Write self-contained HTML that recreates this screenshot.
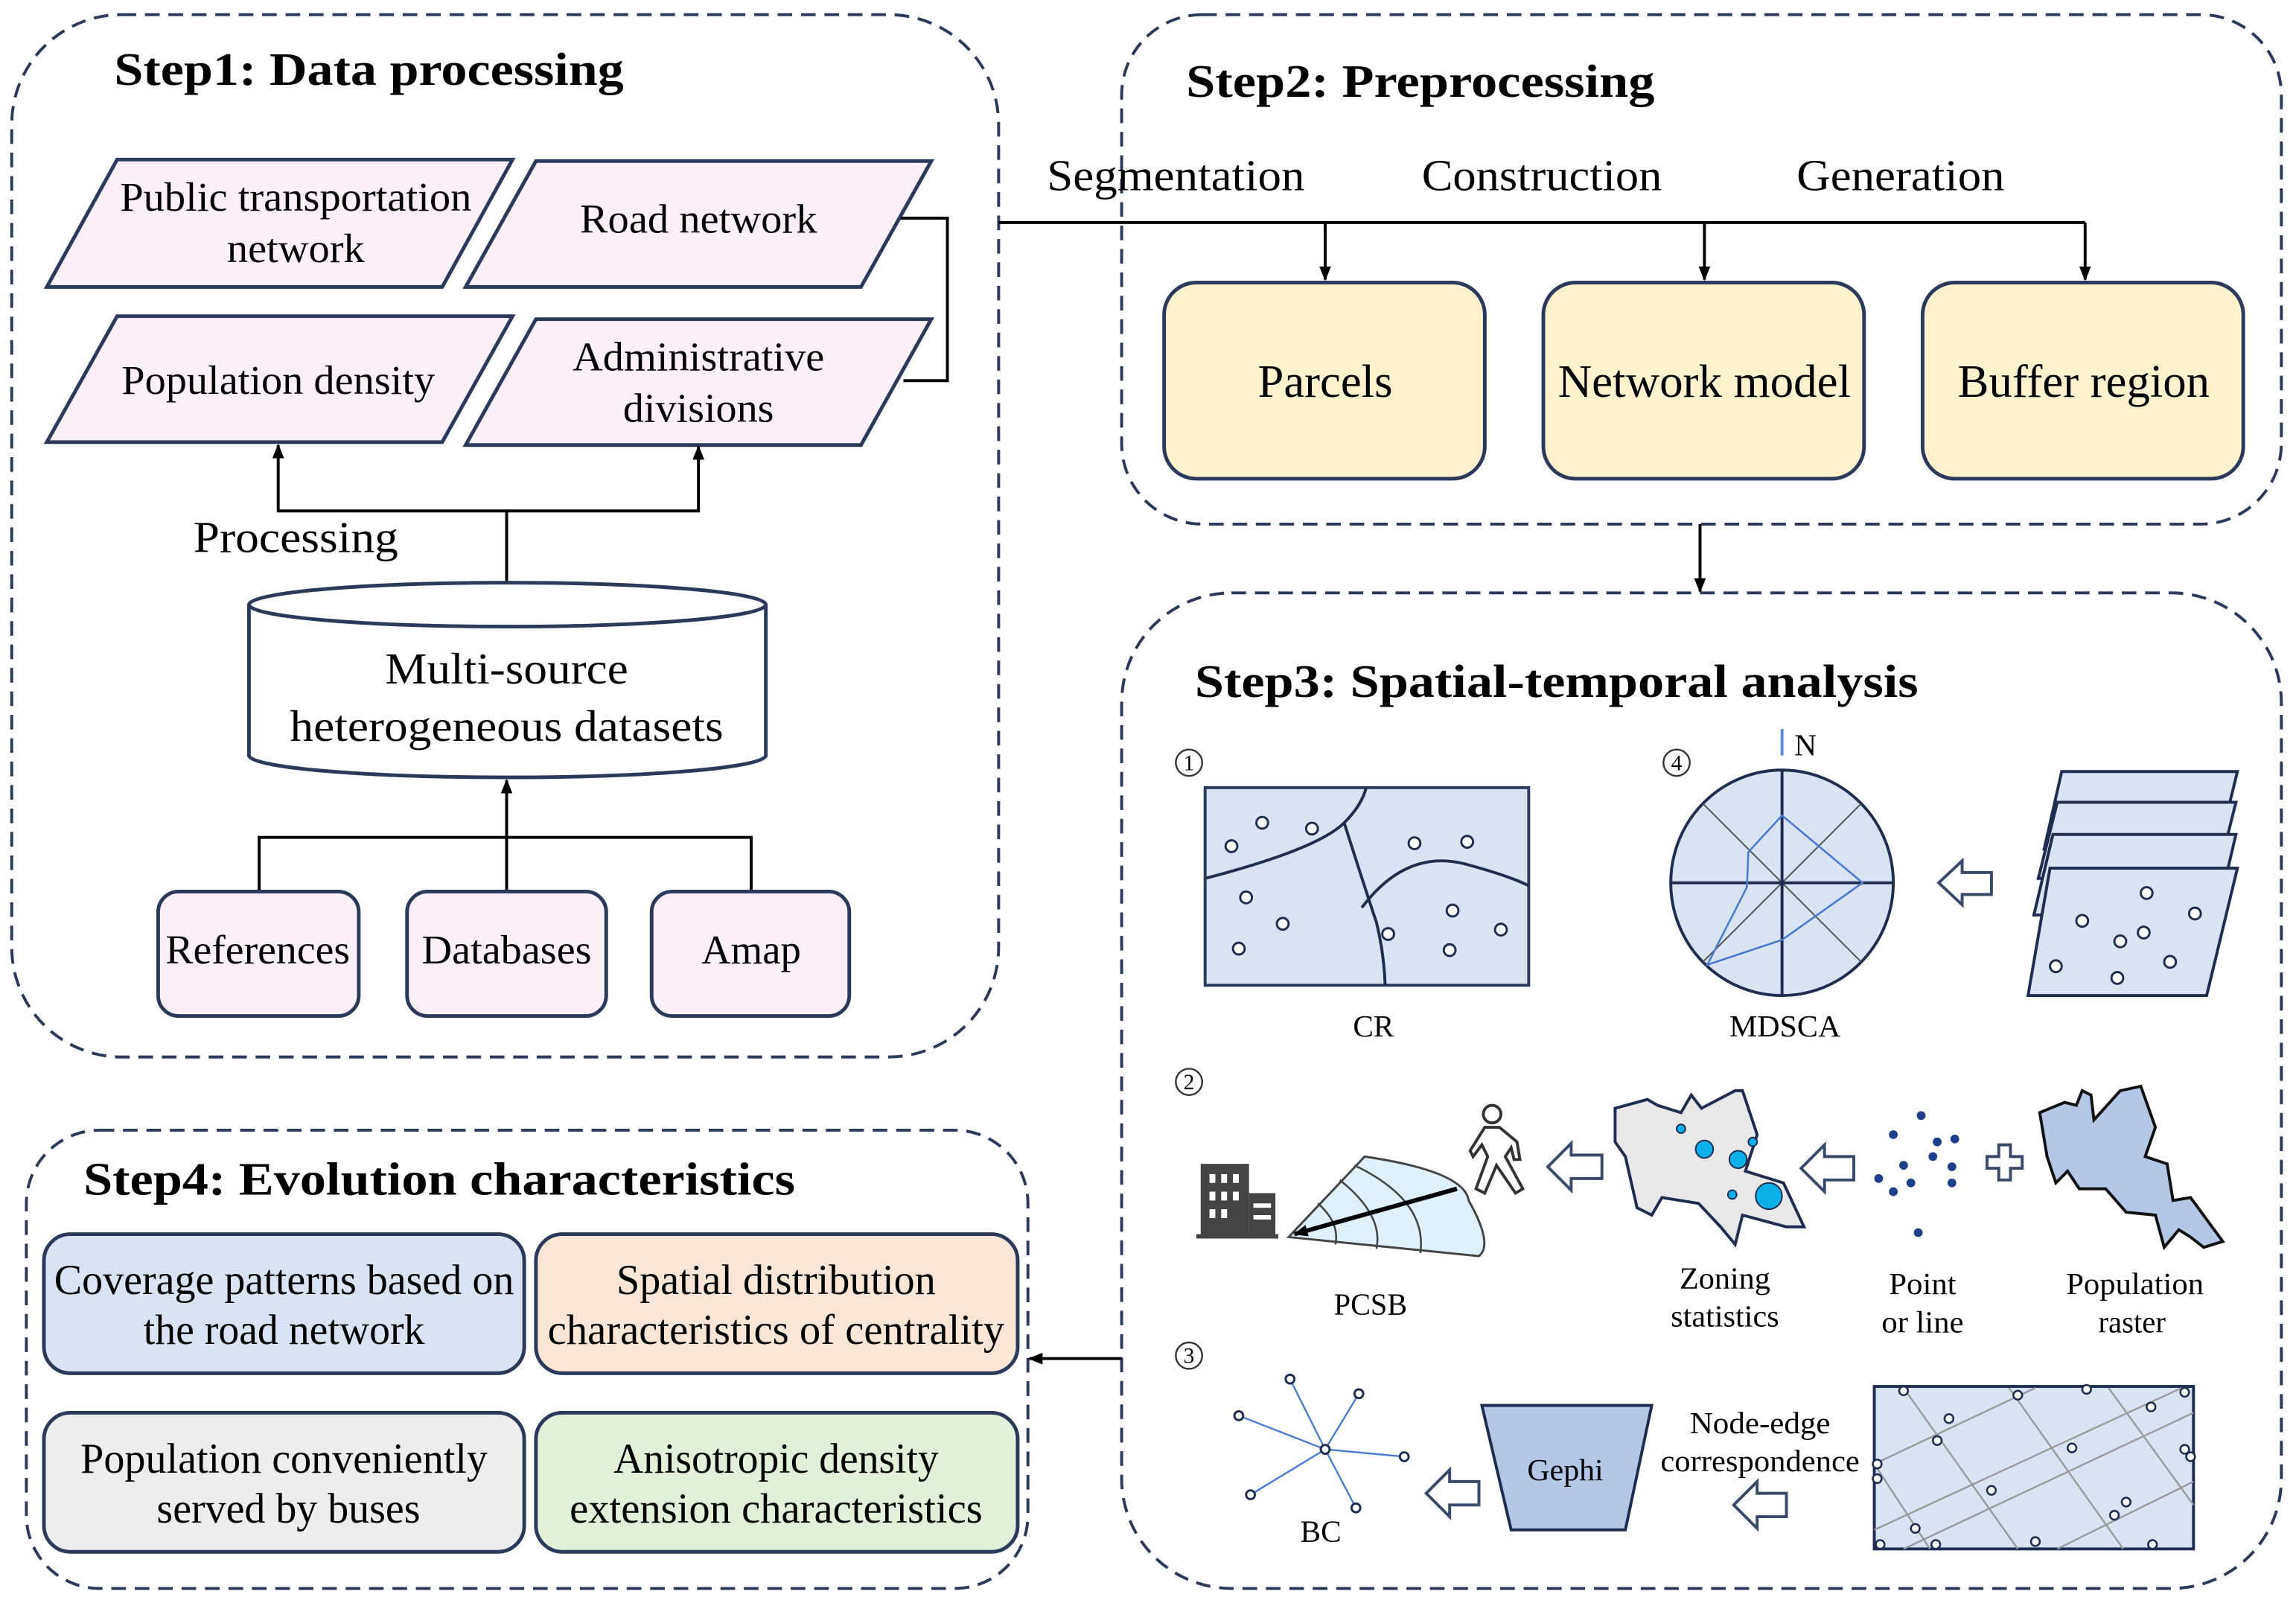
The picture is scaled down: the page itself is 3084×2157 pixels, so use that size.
<!DOCTYPE html>
<html><head><meta charset="utf-8"><style>html,body{margin:0;padding:0;background:#fff}svg{display:block}svg text{font-family:"Liberation Serif","Times New Roman",serif}</style></head>
<body>
<svg width="3084" height="2157" viewBox="0 0 1568 1097" preserveAspectRatio="none" xmlns="http://www.w3.org/2000/svg" style="font-family:'Liberation Serif',serif">
<defs>
<marker id="ar" markerWidth="10" markerHeight="10" refX="9" refY="5" orient="auto" markerUnits="userSpaceOnUse"><path d="M0,1 L10,5 L0,9 z" fill="#000"/></marker>
</defs>
<g fill="none" stroke="#2b3a5a" stroke-width="2" stroke-dasharray="10,6">
<rect x="8" y="10" width="674" height="712" rx="75"/>
<rect x="766" y="10" width="792" height="348" rx="55"/>
<rect x="766" y="405" width="792" height="680" rx="75"/>
<rect x="18" y="772" width="684" height="313" rx="50"/>
</g>
<g font-weight="bold" font-size="32">
<text x="78" y="58" textLength="348" lengthAdjust="spacingAndGlyphs">Step1: Data processing</text>
<text x="810" y="66" textLength="320" lengthAdjust="spacingAndGlyphs">Step2: Preprocessing</text>
<text x="816" y="476" textLength="494" lengthAdjust="spacingAndGlyphs">Step3: Spatial-temporal analysis</text>
<text x="57" y="816" textLength="486" lengthAdjust="spacingAndGlyphs">Step4: Evolution characteristics</text>
</g>
<g fill="#fcf0f8" stroke="#2b3a5a" stroke-width="2.5">
<polygon points="80,109 350,109 302,196 32,196"/>
<polygon points="366,110 636,110 588,196 318,196"/>
<polygon points="80,216 350,216 302,302 32,302"/>
<polygon points="366,218 636,218 588,304 318,304"/>
</g>
<g font-size="28" text-anchor="middle">
<text x="202" y="144" textLength="240" lengthAdjust="spacingAndGlyphs">Public transportation</text>
<text x="202" y="179" textLength="94" lengthAdjust="spacingAndGlyphs">network</text>
<text x="477" y="159" textLength="162" lengthAdjust="spacingAndGlyphs">Road network</text>
<text x="190" y="269" textLength="214" lengthAdjust="spacingAndGlyphs">Population density</text>
<text x="477" y="253" textLength="172" lengthAdjust="spacingAndGlyphs">Administrative</text>
<text x="477" y="288" textLength="103" lengthAdjust="spacingAndGlyphs">divisions</text>
</g>
<g fill="none" stroke="#000" stroke-width="2">
<polyline points="615,149 647,149 647,260 617,260"/>
<line x1="682" y1="152" x2="1424" y2="152"/>
<line x1="905" y1="152" x2="905" y2="191" marker-end="url(#ar)"/>
<line x1="1164" y1="152" x2="1164" y2="191" marker-end="url(#ar)"/>
<line x1="1424" y1="152" x2="1424" y2="191" marker-end="url(#ar)"/>
<line x1="1161" y1="358" x2="1161" y2="404" marker-end="url(#ar)"/>
<line x1="766" y1="928" x2="703" y2="928" marker-end="url(#ar)"/>
<polyline points="346,398 346,349 190,349 190,304" marker-end="url(#ar)"/>
<polyline points="346,349 477,349 477,305" marker-end="url(#ar)"/>
<polyline points="177,609 177,572 513,572 513,609"/>
<line x1="346" y1="609" x2="346" y2="533" marker-end="url(#ar)"/>
</g>
<text x="202" y="377" font-size="30" text-anchor="middle" textLength="140" lengthAdjust="spacingAndGlyphs">Processing</text>
<path d="M170,413 L170,516 A176.5,15 0 0 0 523,516 L523,413" fill="#fff" stroke="#2b3a5a" stroke-width="2.5"/>
<ellipse cx="346.5" cy="413" rx="176.5" ry="15" fill="#fff" stroke="#2b3a5a" stroke-width="2.5"/>
<g font-size="30" text-anchor="middle">
<text x="346" y="467" textLength="166" lengthAdjust="spacingAndGlyphs">Multi-source</text>
<text x="346" y="506" textLength="296" lengthAdjust="spacingAndGlyphs">heterogeneous datasets</text>
</g>
<g fill="#fcf0f8" stroke="#2b3a5a" stroke-width="2.5">
<rect x="108" y="609" width="137" height="85" rx="14"/>
<rect x="278" y="609" width="136" height="85" rx="14"/>
<rect x="445" y="609" width="135" height="85" rx="14"/>
</g>
<g font-size="28" text-anchor="middle">
<text x="176" y="658" textLength="126" lengthAdjust="spacingAndGlyphs">References</text>
<text x="346" y="658" textLength="116" lengthAdjust="spacingAndGlyphs">Databases</text>
<text x="513" y="658" textLength="68" lengthAdjust="spacingAndGlyphs">Amap</text>
</g>
<g font-size="30" text-anchor="middle">
<text x="803" y="130" textLength="176" lengthAdjust="spacingAndGlyphs">Segmentation</text>
<text x="1053" y="130" textLength="164" lengthAdjust="spacingAndGlyphs">Construction</text>
<text x="1298" y="130" textLength="142" lengthAdjust="spacingAndGlyphs">Generation</text>
</g>
<g fill="#fff2cc" stroke="#2b3a5a" stroke-width="2.5">
<rect x="795" y="193" width="219" height="134" rx="22"/>
<rect x="1054" y="193" width="219" height="134" rx="22"/>
<rect x="1313" y="193" width="219" height="134" rx="22"/>
</g>
<g font-size="32" text-anchor="middle">
<text x="905" y="271" textLength="92" lengthAdjust="spacingAndGlyphs">Parcels</text>
<text x="1164" y="271" textLength="200" lengthAdjust="spacingAndGlyphs">Network model</text>
<text x="1423" y="271" textLength="172" lengthAdjust="spacingAndGlyphs">Buffer region</text>
</g>
<g stroke="#2b3a5a" stroke-width="2.5">
<rect x="30" y="843" width="328" height="95" rx="18" fill="#dae3f3"/>
<rect x="366" y="843" width="329" height="95" rx="18" fill="#fbe5d6"/>
<rect x="30" y="965" width="328" height="95" rx="18" fill="#ededed"/>
<rect x="366" y="965" width="329" height="95" rx="18" fill="#e2f0d9"/>
</g>
<g font-size="29" text-anchor="middle">
<text x="194" y="884" textLength="314" lengthAdjust="spacingAndGlyphs">Coverage patterns based on</text>
<text x="194" y="918" textLength="192" lengthAdjust="spacingAndGlyphs">the road network</text>
<text x="530" y="884" textLength="218" lengthAdjust="spacingAndGlyphs">Spatial distribution</text>
<text x="530" y="918" textLength="312" lengthAdjust="spacingAndGlyphs">characteristics of centrality</text>
<text x="194" y="1006" textLength="278" lengthAdjust="spacingAndGlyphs">Population conveniently</text>
<text x="197" y="1040" textLength="180" lengthAdjust="spacingAndGlyphs">served by buses</text>
<text x="530" y="1006" textLength="222" lengthAdjust="spacingAndGlyphs">Anisotropic density</text>
<text x="530" y="1040" textLength="282" lengthAdjust="spacingAndGlyphs">extension characteristics</text>
</g>
<g fill="none" stroke="#333" stroke-width="1.2">
<circle cx="812" cy="521" r="9"/><circle cx="1145" cy="521" r="9"/><circle cx="812" cy="739" r="9"/><circle cx="812" cy="926" r="9"/>
</g>
<g font-size="15" text-anchor="middle">
<text x="812" y="526">1</text><text x="1145" y="526">4</text><text x="812" y="744">2</text><text x="812" y="931">3</text>
</g>
<g font-size="21" text-anchor="middle">
<text x="938" y="708">CR</text><text x="1219" y="708" textLength="76" lengthAdjust="spacingAndGlyphs">MDSCA</text>
<text x="936" y="898" textLength="50" lengthAdjust="spacingAndGlyphs">PCSB</text>
<text x="1178" y="880" textLength="62" lengthAdjust="spacingAndGlyphs">Zoning</text><text x="1178" y="906" textLength="74" lengthAdjust="spacingAndGlyphs">statistics</text>
<text x="1313" y="884" textLength="46" lengthAdjust="spacingAndGlyphs">Point</text><text x="1313" y="910" textLength="56" lengthAdjust="spacingAndGlyphs">or line</text>
<text x="1458" y="884" textLength="94" lengthAdjust="spacingAndGlyphs">Population</text><text x="1456" y="910" textLength="46" lengthAdjust="spacingAndGlyphs">raster</text>
<text x="902" y="1053">BC</text>
<text x="1202" y="979" textLength="96" lengthAdjust="spacingAndGlyphs">Node-edge</text><text x="1202" y="1005" textLength="136" lengthAdjust="spacingAndGlyphs">correspondence</text>
<text x="1233" y="516">N</text>
</g>
<rect x="823" y="538" width="221" height="135" fill="#dae3f3" stroke="#2b3a5a" stroke-width="2"/>
<g fill="none" stroke="#1f2d50" stroke-width="2">
<path d="M823,600 Q900,580 918,562 Q930,550 933,538"/>
<path d="M918,562 Q930,600 940,630 Q945,650 946,673"/>
<path d="M930,620 Q960,580 1000,590 Q1030,598 1044,605"/>
</g>
<g fill="#fff" stroke="#1f2d50" stroke-width="1.5">
<circle cx="862" cy="562" r="4"/><circle cx="896" cy="566" r="4"/><circle cx="841" cy="578" r="4"/>
<circle cx="966" cy="576" r="4"/><circle cx="1002" cy="575" r="4"/><circle cx="851" cy="613" r="4"/>
<circle cx="876" cy="631" r="4"/><circle cx="846" cy="648" r="4"/><circle cx="948" cy="638" r="4"/>
<circle cx="992" cy="622" r="4"/><circle cx="1025" cy="635" r="4"/><circle cx="990" cy="649" r="4"/>
</g>
<line x1="1217" y1="516" x2="1217" y2="498" stroke="#5b8bd6" stroke-width="2"/>
<ellipse cx="1217" cy="603" rx="76" ry="77" fill="#dae3f3" stroke="#1f2d50" stroke-width="2"/>
<g stroke="#555" stroke-width="1"><line x1="1163" y1="549" x2="1271" y2="657"/><line x1="1271" y1="549" x2="1163" y2="657"/></g>
<g stroke="#1f2d50" stroke-width="2"><line x1="1217" y1="526" x2="1217" y2="680"/><line x1="1141" y1="603" x2="1293" y2="603"/></g>
<polygon points="1217,557 1194,582 1193,606 1166,659 1217,642 1272,603" fill="none" stroke="#4a7ad0" stroke-width="1.3"/>
<g fill="#dae3f3" stroke="#1f2d50" stroke-width="2">
<polygon points="1408,527 1528,527 1515,580 1396,580"/>
<polygon points="1405,548 1527,548 1514,600 1392,600"/>
<polygon points="1402,570 1527,570 1514,625 1389,625"/>
<polygon points="1400,593 1528,593 1507,680 1385,680"/>
</g>
<g fill="#fff" stroke="#1f2d50" stroke-width="1.5">
<circle cx="1466" cy="610" r="4"/><circle cx="1422" cy="629" r="4"/><circle cx="1499" cy="624" r="4"/>
<circle cx="1464" cy="637" r="4"/><circle cx="1448" cy="643" r="4"/><circle cx="1482" cy="657" r="4"/>
<circle cx="1404" cy="660" r="4"/><circle cx="1446" cy="668" r="4"/>
</g>
<g fill="#fff" stroke="#3a4a6a" stroke-width="2">
<polygon points="1324,603 1340,588 1340,596 1360,596 1360,611 1340,611 1340,618"/>
<polygon points="1057,797 1073,781 1073,789 1094,789 1094,805 1073,805 1073,813"/>
<polygon points="1230,798 1246,782 1246,790 1266,790 1266,806 1246,806 1246,814"/>
<polygon points="974,1020 990,1004 990,1012 1010,1012 1010,1028 990,1028 990,1036"/>
<polygon points="1184,1028 1200,1012 1200,1020 1220,1020 1220,1036 1200,1036 1200,1044"/>
<path d="M1357,790 h8 v-8 h8 v8 h8 v8 h-8 v8 h-8 v-8 h-8 z" fill="#fff"/>
</g>
<g fill="#444"><rect x="820" y="795" width="33" height="50"/><rect x="853" y="815" width="18" height="30"/><rect x="817" y="843" width="56" height="3"/></g>
<g fill="#fff"><rect x="826" y="802" width="4" height="6"/><rect x="834" y="802" width="4" height="6"/><rect x="842" y="802" width="4" height="6"/>
<rect x="826" y="814" width="4" height="6"/><rect x="834" y="814" width="4" height="6"/><rect x="842" y="814" width="4" height="6"/>
<rect x="826" y="826" width="4" height="6"/><rect x="834" y="826" width="4" height="6"/><rect x="856" y="822" width="12" height="3"/><rect x="856" y="830" width="12" height="3"/></g>
<path d="M880,845 L932,790 Q1000,800 1003,820 Q1020,850 1010,858 Z" fill="#ddf0fb" stroke="#444" stroke-width="1.5"/>
<g fill="none" stroke="#444" stroke-width="1.3"><path d="M900,822 Q915,835 912,850"/><path d="M915,806 Q945,830 940,853"/><path d="M925,796 Q975,820 970,856"/></g>
<line x1="995" y1="812" x2="884" y2="843" stroke="#000" stroke-width="3" marker-end="url(#ar)"/>
<g fill="#fff" stroke="#333" stroke-width="2"><circle cx="1019" cy="761" r="6"/><path d="M1014,770 L1024,770 L1036,780 L1038,792 L1034,792 L1032,784 L1028,790 L1040,812 L1035,815 L1022,796 L1014,815 L1008,812 L1016,790 L1012,782 L1006,790 L1004,786 Z"/></g>
<path d="M1103,757 L1125,751 L1132,755 L1148,760 L1155,748 L1162,757 L1185,745 L1190,745 L1200,775 L1192,800 L1218,808 L1232,838 L1220,838 L1190,830 L1185,850 L1175,838 L1160,822 L1135,818 L1128,830 L1118,825 L1110,790 L1103,780 Z" fill="#e8e8e8" stroke="#1f2d50" stroke-width="2"/>
<g fill="#0ab0ea" stroke="#1f2d50" stroke-width="1"><circle cx="1148" cy="771" r="3"/><circle cx="1164" cy="785" r="6"/><circle cx="1187" cy="792" r="6"/><circle cx="1197" cy="780" r="3"/><circle cx="1183" cy="816" r="3"/><circle cx="1208" cy="817" r="9"/></g>
<g fill="#1f3f8a"><circle cx="1312" cy="762" r="3"/><circle cx="1293" cy="775" r="3"/><circle cx="1323" cy="780" r="3"/><circle cx="1335" cy="778" r="3"/>
<circle cx="1320" cy="790" r="3"/><circle cx="1333" cy="797" r="3"/><circle cx="1300" cy="796" r="3"/><circle cx="1283" cy="805" r="3"/>
<circle cx="1305" cy="808" r="3"/><circle cx="1333" cy="808" r="3"/><circle cx="1293" cy="814" r="3"/><circle cx="1310" cy="842" r="3"/></g>
<path d="M1393,760 L1410,753 L1418,755 L1422,745 L1428,748 L1430,765 L1448,745 L1462,742 L1472,770 L1465,790 L1480,795 L1484,820 L1496,818 L1518,848 L1505,852 L1496,845 L1488,840 L1478,852 L1472,830 L1452,828 L1438,812 L1420,812 L1412,800 L1404,808 L1398,790 Z" fill="#b4c7e7" stroke="#111" stroke-width="2"/>
<g stroke="#4a7ad0" stroke-width="1.2"><line x1="905" y1="990" x2="881" y2="942"/><line x1="905" y1="990" x2="928" y2="952"/><line x1="905" y1="990" x2="846" y2="967"/><line x1="905" y1="990" x2="959" y2="995"/><line x1="905" y1="990" x2="854" y2="1021"/><line x1="905" y1="990" x2="926" y2="1030"/></g>
<g fill="#fff" stroke="#1f2d50" stroke-width="1.5"><circle cx="905" cy="990" r="3"/><circle cx="881" cy="942" r="3"/><circle cx="928" cy="952" r="3"/><circle cx="846" cy="967" r="3"/><circle cx="959" cy="995" r="3"/><circle cx="854" cy="1021" r="3"/><circle cx="926" cy="1030" r="3"/></g>
<polygon points="1012,960 1128,960 1110,1045 1032,1045" fill="#b4c7e7" stroke="#1f2d50" stroke-width="2"/>
<text x="1069" y="1011" font-size="21" text-anchor="middle" textLength="52" lengthAdjust="spacingAndGlyphs">Gephi</text>
<rect x="1280" y="947" width="218" height="111" fill="#dae3f3" stroke="#1f2d50" stroke-width="2"/>
<g stroke="#999" stroke-width="1.2">
<line x1="1280" y1="1000" x2="1390" y2="948"/><line x1="1280" y1="1045" x2="1490" y2="948"/><line x1="1300" y1="1058" x2="1498" y2="965"/><line x1="1405" y1="1058" x2="1498" y2="1012"/>
<line x1="1300" y1="948" x2="1378" y2="1058"/><line x1="1372" y1="948" x2="1450" y2="1058"/><line x1="1440" y1="948" x2="1498" y2="1028"/><line x1="1280" y1="1000" x2="1318" y2="1058"/>
</g>
<g fill="#fff" stroke="#1f2d50" stroke-width="1.3">
<circle cx="1300" cy="950" r="3"/><circle cx="1378" cy="953" r="3"/><circle cx="1425" cy="949" r="3"/><circle cx="1469" cy="961" r="3"/><circle cx="1492" cy="951" r="3"/>
<circle cx="1331" cy="969" r="3"/><circle cx="1323" cy="984" r="3"/><circle cx="1415" cy="989" r="3"/><circle cx="1282" cy="1000" r="3"/><circle cx="1492" cy="990" r="3"/>
<circle cx="1360" cy="1018" r="3"/><circle cx="1282" cy="1010" r="3"/><circle cx="1452" cy="1026" r="3"/><circle cx="1308" cy="1044" r="3"/><circle cx="1444" cy="1035" r="3"/>
<circle cx="1284" cy="1055" r="3"/><circle cx="1322" cy="1055" r="3"/><circle cx="1390" cy="1053" r="3"/><circle cx="1470" cy="1055" r="3"/><circle cx="1496" cy="995" r="3"/>
</g>
</svg>
</body></html>
